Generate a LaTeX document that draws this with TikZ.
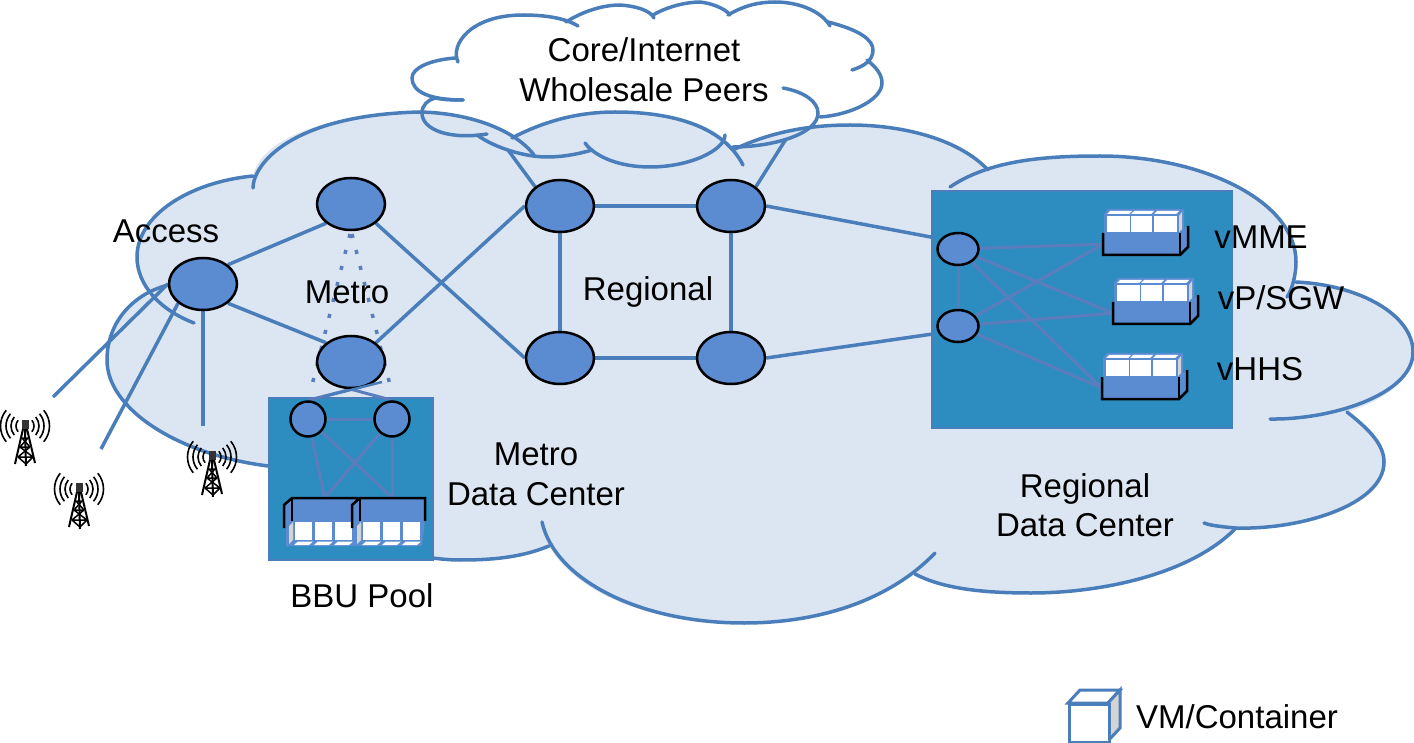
\documentclass[tikz,border=0pt]{standalone}
\usepackage{fontspec}
\setmainfont{Liberation Sans}
\pgfdeclarelayer{cloudlayer}
\pgfdeclarelayer{connlayer}
\pgfdeclarelayer{boxlayer}
\pgfdeclarelayer{innerlayer}
\pgfsetlayers{cloudlayer,connlayer,boxlayer,innerlayer,main}
\definecolor{edgeblue}{HTML}{4A7EBB}
\definecolor{cloudfill}{HTML}{DCE6F2}
\definecolor{nodeblue}{HTML}{5B8CD2}
\definecolor{dcblue}{HTML}{2E8DC0}
\definecolor{innerline}{HTML}{5B7DBE}
\definecolor{cubeside}{HTML}{D4D4D4}
\tikzset{
  cloudline/.style={draw=edgeblue,line width=3.5pt,line cap=round},
  conn/.style={draw=edgeblue,line width=3.5pt},
  inner/.style={draw=innerline,line width=3pt},
  dotline/.style={draw=innerline,line width=3.5pt,dash pattern=on 4pt off 12.5pt},
  bignode/.style={ellipse,draw=black,line width=2.5pt,fill=nodeblue,minimum width=68pt,minimum height=52pt,inner sep=0pt},
  smallnode/.style={ellipse,draw=black,line width=2.5pt,fill=nodeblue,inner sep=0pt},
  dcbox/.style={draw=edgeblue,line width=2pt,fill=dcblue,inner sep=0pt,anchor=north west},
  barnode/.style={fill=nodeblue,inner sep=0pt,anchor=north west},
  lab/.style={font=\fontsize{33}{40}\selectfont,text=black,inner sep=0pt,anchor=base,align=center},
  whitecube/.style={fill=white,draw=none},
  blackedge/.style={draw=black,line width=2.5pt},
}
\usetikzlibrary{shapes.geometric}
% rack with its cubes above the bar: #1 name, #2 x, #3 y of the bar's upper left corner
\newcommand{\uprack}[3]{%
  \begin{scope}[shift={(#2,#3)}]
    \fill[nodeblue] (1,0) -- (1,-19) -- (5,-24) -- (81,-24) -- (81,-3) -- (77,0) -- cycle;
    \fill[nodeblue] (77,0) -- (85,-7) -- (85,14) -- (77,22) -- cycle;
    \node[barnode,minimum width=77pt,minimum height=22pt] (#1) at (0,0) {};
    \foreach \cx/\cw in {4/23,28/21,51/23}{
      \fill[whitecube] (\cx,-17) rectangle ++(\cw,16);
      \fill[whitecube] (\cx,-19) -- ++(3,-3) -- ++(\cw-1,0) -- ++(-3,3) -- cycle;
    }
    \fill[cubeside] (76,-17) -- (79,-21) -- (79,-4) -- (76,-1) -- cycle;
    \draw[blackedge] (0,0) -- (0,22) -- (77,22) -- (85,14) -- (85,-7);
    \draw[blackedge,line width=1.8pt] (77,0) -- (77,22);
  \end{scope}}
% rack with its cubes below the bar
\newcommand{\downrack}[3]{%
  \begin{scope}[shift={(#2,#3)}]
    \fill[nodeblue] (0,23) -- (-6,29) -- (-6,48) -- (62,48) -- (65,23) -- cycle;
    \fill[nodeblue] (0,0) -- (-8,7) -- (-8,30) -- (0,23) -- cycle;
    \node[barnode,minimum width=65pt,minimum height=24pt] (#1) at (0,0) {};
    \foreach \cx in {3,23,43}{
      \fill[whitecube] (\cx,24) rectangle ++(17,18);
      \fill[whitecube] (\cx-1,47) -- ++(4,-3.5) -- ++(15,0) -- ++(-4,3.5) -- cycle;
    }
    \fill[cubeside] (-3,28) -- (1,24) -- (1,42) -- (-3,46) -- cycle;
    \draw[blackedge] (-8,30) -- (-8,7) -- (0,0) -- (65,0) -- (65,23);
    \draw[blackedge,line width=1.8pt] (0,0) -- (0,23);
  \end{scope}}
\newcommand{\antenna}[2]{%
  \begin{scope}[shift={(#1,#2)}]
    \foreach \rr in {9,14,19,24.5}{
      \draw[black,line width=1.6pt] (40:\rr) arc[start angle=40,end angle=-40,radius=\rr];
      \draw[black,line width=1.6pt] (140:\rr) arc[start angle=140,end angle=220,radius=\rr];
    }
    \fill[black!80] (-3.5,-6) rectangle (3.5,3);
    \draw[black,line width=2pt] (-2,3) -- (-10,38) (2,3) -- (10,37) (0,3) -- (1,40);
    \draw[black,line width=1.5pt] (-3,12) -- (3,12) (-5,21) -- (5,21) (-7,31) -- (8,31)
      (-3,12) -- (5,21) (3,12) -- (-5,21) (-5,21) -- (8,31) (5,21) -- (-7,31) (-7,31) -- (1,38) (8,31) -- (1,38);
  \end{scope}}
\begin{document}
\begin{tikzpicture}[x=1pt,y=-1pt]
\useasboundingbox (0,0) rectangle (1414,743);
\begin{pgfonlayer}{cloudlayer}
  \fill[white] (0,0) rectangle (1414,743);
  % core cloud fill
  \fill[white] (435,98) .. controls (420,92) and (412,85) .. (412,78)
    .. controls (412,68) and (430,60) .. (455,58)
    .. controls (450,45) and (470,15) .. (523,15)
    .. controls (540,15) and (555,17) .. (566,22)
    .. controls (585,10) and (605,5) .. (620,5)
    .. controls (635,6) and (648,10) .. (653,15)
    .. controls (670,5) and (690,2) .. (700,2)
    .. controls (710,3) and (720,8) .. (728,15)
    .. controls (745,5) and (760,2) .. (775,2)
    .. controls (800,2) and (822,12) .. (828,22)
    .. controls (860,30) and (873,40) .. (873,50)
    .. controls (873,55) and (870,58) .. (867,60)
    .. controls (877,68) and (882,75) .. (882,83)
    .. controls (882,100) and (850,115) .. (818,117)
    .. controls (815,135) and (770,147) .. (725,147)
    .. controls (700,167) and (680,167) .. (650,167)
    .. controls (620,167) and (600,155) .. (592,150)
    .. controls (575,155) and (560,157) .. (547,157)
    .. controls (525,157) and (495,148) .. (477,135)
    .. controls (450,140) and (422,130) .. (422,113)
    .. controls (422,105) and (428,100) .. (435,98) -- cycle;
  % main cloud fill
  \fill[cloudfill] (107,360) .. controls (107,325) and (125,300) .. (152,295)
    .. controls (142,285) and (137,270) .. (137,257)
    .. controls (137,215) and (190,182) .. (253,176)
    .. controls (258,150) and (300,115) .. (420,112)
    .. controls (450,112) and (490,122) .. (512,138)
    .. controls (550,118) and (585,112) .. (615,112)
    .. controls (680,112) and (715,125) .. (735,149)
    .. controls (775,130) and (815,125) .. (850,125)
    .. controls (905,125) and (960,140) .. (988,170)
    .. controls (1020,160) and (1060,156) .. (1100,156)
    .. controls (1200,156) and (1296,200) .. (1296,262)
    -- (1296,282)
    .. controls (1360,285) and (1413,315) .. (1413,352)
    .. controls (1413,380) and (1385,400) .. (1347,412)
    .. controls (1370,430) and (1384,445) .. (1384,462)
    .. controls (1384,505) and (1300,530) .. (1236,528)
    .. controls (1190,575) and (1100,593) .. (1031,593)
    .. controls (990,593) and (945,590) .. (915,574)
    .. controls (860,610) and (820,623) .. (744,623)
    .. controls (640,623) and (575,590) .. (549,546)
    .. controls (520,558) and (490,560) .. (460,560)
    .. controls (400,560) and (300,520) .. (268,466)
    .. controls (180,455) and (107,410) .. (107,360) -- cycle;
  % main cloud outline
  \draw[cloudline] (168,285) .. controls (130,295) and (107,325) .. (107,360)
    .. controls (107,410) and (180,455) .. (268,466);
  \draw[cloudline] (194,323) .. controls (160,310) and (137,285) .. (137,257)
    .. controls (137,215) and (190,182) .. (253,176);
  \draw[cloudline] (253,188) .. controls (253,165) and (290,115) .. (420,112)
    .. controls (470,113) and (515,130) .. (534,155);
  \draw[cloudline] (512,138) .. controls (550,118) and (585,112) .. (615,112)
    .. controls (680,112) and (725,130) .. (743,165);
  \draw[cloudline] (735,149) .. controls (775,130) and (815,125) .. (850,125)
    .. controls (905,125) and (960,140) .. (988,170);
  \draw[cloudline] (950,187) .. controls (990,160) and (1045,156) .. (1100,156)
    .. controls (1200,156) and (1296,200) .. (1296,262)
    .. controls (1296,275) and (1292,290) .. (1287,297);
  \draw[cloudline] (1296,282) .. controls (1360,285) and (1413,315) .. (1413,352)
    .. controls (1413,395) and (1330,420) .. (1270,419);
  \draw[cloudline] (1347,412) .. controls (1370,430) and (1384,445) .. (1384,462)
    .. controls (1384,505) and (1300,530) .. (1236,528)
    .. controls (1225,527) and (1212,526) .. (1204,523);
  \draw[cloudline] (1236,528) .. controls (1190,575) and (1100,593) .. (1031,593)
    .. controls (990,593) and (945,590) .. (915,574);
  \draw[cloudline] (935,553) .. controls (890,600) and (820,623) .. (744,623)
    .. controls (640,623) and (555,580) .. (542,522);
  \draw[cloudline] (549,546) .. controls (520,558) and (490,560) .. (460,560)
    .. controls (450,560) and (440,559) .. (433,558);
  % core cloud outline
  \draw[cloudline] (463,100) .. controls (430,100) and (412,92) .. (412,78)
    .. controls (412,68) and (430,60) .. (455,58);
  \draw[cloudline] (458,62) .. controls (450,45) and (470,15) .. (523,15)
    .. controls (545,15) and (565,18) .. (578,26);
  \draw[cloudline] (566,22) .. controls (585,10) and (605,5) .. (620,5)
    .. controls (635,6) and (650,10) .. (654,18);
  \draw[cloudline] (653,15) .. controls (670,5) and (690,2) .. (700,2)
    .. controls (710,3) and (725,8) .. (730,15);
  \draw[cloudline] (728,15) .. controls (745,5) and (760,2) .. (775,2)
    .. controls (800,2) and (822,12) .. (830,26);
  \draw[cloudline] (828,22) .. controls (860,30) and (873,40) .. (873,50)
    .. controls (873,60) and (865,66) .. (852,70);
  \draw[cloudline] (867,60) .. controls (877,68) and (882,75) .. (882,83)
    .. controls (882,100) and (850,115) .. (820,117);
  \draw[cloudline] (783,88) .. controls (805,92) and (818,102) .. (818,113)
    .. controls (818,135) and (770,147) .. (733,147);
  \draw[cloudline] (725,135) .. controls (725,150) and (690,167) .. (650,167)
    .. controls (620,167) and (595,157) .. (585,143);
  \draw[cloudline] (592,150) .. controls (575,155) and (560,157) .. (547,157)
    .. controls (525,157) and (495,148) .. (477,135);
  \draw[cloudline] (487,134) .. controls (450,140) and (422,130) .. (422,113)
    .. controls (422,105) and (428,100) .. (435,98)
    .. controls (445,100) and (455,100) .. (463,100);
\end{pgfonlayer}

% nodes
\node[bignode] (acc) at (203,284) {};
\node[bignode] (mt) at (351,204) {};
\node[bignode] (mb) at (351,362) {};
\node[bignode] (ra) at (560,206) {};
\node[bignode] (rb) at (731,206) {};
\node[bignode] (rc) at (560,358) {};
\node[bignode] (rd) at (731,358) {};
\node[smallnode,minimum width=41pt,minimum height=32pt] (sa) at (958,249) {};
\node[smallnode,minimum width=41pt,minimum height=32pt] (sb) at (958,326) {};
\node[smallnode,minimum width=35pt,minimum height=35pt] (pa) at (308,419) {};
\node[smallnode,minimum width=35pt,minimum height=35pt] (pb) at (392,419) {};

\coordinate (coreL) at (508,150);
\coordinate (coreR) at (786,139);
\coordinate (ant1) at (53,397);
\coordinate (ant2) at (101,449);
\coordinate (ant3) at (203,426);
\coordinate (dotL) at (312,385);
\coordinate (dotR) at (390,385);
\coordinate (dotTL) at (350,234);
\coordinate (dotTR) at (352,234);
\coordinate (stubA) at (323,397);
\coordinate (stubB) at (382,382);

\begin{pgfonlayer}{connlayer}
  \draw[conn] (acc.north east) -- (mt.south west);
  \draw[conn] (acc.south east) -- (mb.north west);
  \draw[conn] (mt.south east) -- (rc.west);
  \draw[conn] (mb.north east) -- (ra.west);
  \draw[conn] (ra) -- (rb);
  \draw[conn] (ra) -- (rc);
  \draw[conn] (rb) -- (rd);
  \draw[conn] (rc) -- (rd);
  \draw[conn] (ra.north west) -- (coreL);
  \draw[conn] (rb.north east) -- (coreR);
  \draw[conn] (rb.east) -- (sa.150);
  \draw[conn] (rd.east) -- (sb.200);
  \draw[conn] (acc.west) -- (ant1);
  \draw[conn] (acc.south west) -- (ant2);
  \draw[conn] (acc.south) -- (ant3);
  \draw[dotline] (dotTL) -- (dotL);
  \draw[dotline] (dotTR) -- (dotR);
\end{pgfonlayer}

\begin{pgfonlayer}{boxlayer}
  \node[dcbox,minimum width=300pt,minimum height=237pt] (regdc) at (931,190) {};
  \node[dcbox,minimum width=164pt,minimum height=162pt] (metdc) at (268,397) {};
\end{pgfonlayer}

\uprack{vm}{1103}{233}
\uprack{vp}{1113}{302}
\uprack{vh}{1102}{377}
\downrack{bb}{292}{498}
\downrack{bc}{360}{498}

\begin{pgfonlayer}{innerlayer}
  \draw[inner] (sa) -- (sb);
  \draw[inner] (sa) -- (vm.west);
  \draw[inner] (sa) -- (vp.west);
  \draw[inner] (sa) -- (vh.west);
  \draw[inner] (sb) -- (vm.west);
  \draw[inner] (sb) -- (vp.west);
  \draw[inner] (sb) -- (vh.west);
  \draw[inner] (pa) -- (pb);
  \draw[inner] (pa) -- (bb.north);
  \draw[inner] (pa) -- (bc.north);
  \draw[inner] (pb) -- (bb.north);
  \draw[inner] (pb) -- (bc.north);
  \draw[inner] (mb.south) -- (pa.north);
  \draw[inner] (mb.south) -- (pb.north);
\end{pgfonlayer}
\draw[draw=edgeblue,line width=2.5pt] (stubA) -- (stubB);

\antenna{25}{426}
\antenna{79}{489}
\antenna{212}{457}

% legend cube
\filldraw[draw=edgeblue,line width=3pt,fill=white] (1068,703) -- (1080,690) -- (1120,690) -- (1108,703) -- cycle;
\filldraw[draw=edgeblue,line width=3pt,fill=cubeside] (1108,703) -- (1120,690) -- (1120,728) -- (1108,741) -- cycle;
\node[draw=edgeblue,fill=white,line width=3pt,minimum width=40pt,minimum height=38pt,inner sep=0pt,anchor=north west] (cube) at (1068,703) {};

% labels
\node[lab] (tcore) at (644,62) {Core/Internet};
\node[lab] (twhole) at (644,102) {Wholesale Peers};
\node[lab] (tacc) at (166,243) {Access};
\node[lab] (tmetro) at (347,304) {Metro};
\node[lab] (treg) at (648,301) {Regional};
\node[lab] (tmd) at (536,465) {Metro};
\node[lab] (tmd2) at (536,505) {Data Center};
\node[lab] (trd) at (1085,497) {Regional};
\node[lab] (trd2) at (1085,536) {Data Center};
\node[lab] (tbbu) at (362,607) {BBU Pool};
\node[lab] (tvm) at (1261,249) {vMME};
\node[lab] (tvp) at (1281,310) {vP/SGW};
\node[lab] (tvh) at (1260,381) {vHHS};
\node[lab] (tleg) at (1237,728) {VM/Container};
\end{tikzpicture}
\end{document}
